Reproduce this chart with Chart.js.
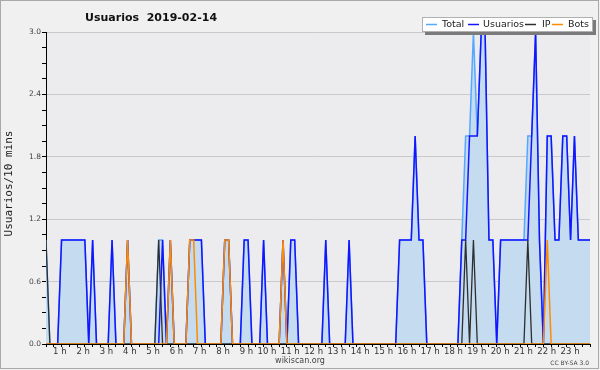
<!DOCTYPE html>
<html><head><meta charset="utf-8">
<script src="https://cdn.jsdelivr.net/npm/chart.js@4/dist/chart.umd.min.js"></script>
<style>html,body{margin:0;padding:0;background:#f0f0f0;}canvas{display:block;}</style>
</head><body>
<canvas id="c" width="600" height="370"></canvas>
<script>
// 10-minute slots, index 0..140
const hourLabels = ["1 h","2 h","3 h","4 h","5 h","6 h","7 h","8 h","9 h","10 h","11 h","12 h","13 h","14 h","15 h","16 h","17 h","18 h","19 h","20 h","21 h","22 h","23 h"];
const yTickLabels = ["0.0","0.6","1.2","1.8","2.4","3.0"];
const seriesNames = ["Total","Usuarios","IP","Bots"];

const total = [
1,0,0,0,1,1,1,1,1,1,
1,0,1,0,0,0,0,1,0,0,
0,1,0,0,0,0,0,0,0,1,
1,0,1,0,0,0,0,1,1,1,
1,0,0,0,0,0,1,1,0,0,
0,1,1,0,0,0,1,0,0,0,
0,1,0,1,1,0,0,0,0,0,
0,0,1,0,0,0,0,0,1,0,
0,0,0,0,0,0,0,0,0,0,
0,1,1,1,1,2,1,1,0,0,
0,0,0,0,0,0,0,1,2,2,
3,2,3,3,1,1,0,1,1,1,
1,1,1,1,2,2,3,1,0,2,
2,1,1,2,2,1,2,1,1,1,
1];
const usuarios = [
0,0,0,0,1,1,1,1,1,1,
1,0,1,0,0,0,0,1,0,0,
0,1,0,0,0,0,0,0,0,0,
1,0,1,0,0,0,0,1,1,1,
1,0,0,0,0,0,1,1,0,0,
0,1,1,0,0,0,1,0,0,0,
0,1,0,1,1,0,0,0,0,0,
0,0,1,0,0,0,0,0,1,0,
0,0,0,0,0,0,0,0,0,0,
0,1,1,1,1,2,1,1,0,0,
0,0,0,0,0,0,0,1,1,2,
2,2,3,3,1,1,0,1,1,1,
1,1,1,1,1,2,3,1,0,2,
2,1,1,2,2,1,2,1,1,1,
1];
const ip = [
1,0,0,0,0,0,0,0,0,0,
0,0,0,0,0,0,0,0,0,0,
0,0,0,0,0,0,0,0,0,1,
0,0,0,0,0,0,0,0,0,0,
0,0,0,0,0,0,0,0,0,0,
0,0,0,0,0,0,0,0,0,0,
0,0,0,0,0,0,0,0,0,0,
0,0,0,0,0,0,0,0,0,0,
0,0,0,0,0,0,0,0,0,0,
0,0,0,0,0,0,0,0,0,0,
0,0,0,0,0,0,0,0,1,0,
1,0,0,0,0,0,0,0,0,0,
0,0,0,0,1,0,0,0,0,0,
0,0,0,0,0,0,0,0,0,0,
0];
const bots = [
0,0,0,0,0,0,0,0,0,0,
0,0,0,0,0,0,0,0,0,0,
0,1,0,0,0,0,0,0,0,0,
0,0,1,0,0,0,0,1,1,0,
0,0,0,0,0,0,1,1,0,0,
0,0,0,0,0,0,0,0,0,0,
0,1,0,0,0,0,0,0,0,0,
0,0,0,0,0,0,0,0,0,0,
0,0,0,0,0,0,0,0,0,0,
0,0,0,0,0,0,0,0,0,0,
0,0,0,0,0,0,0,0,0,0,
0,0,0,0,0,0,0,0,0,0,
0,0,0,0,0,0,0,0,0,1,
0,0,0,0,0,0,0,0,0,0,
0];

const COLORS = {Total:'#55a8ff', Usuarios:'#1414ff', IP:'#2e2e2e', Bots:'#ff8c00'};
const SLOTS_PER_HOUR = 6;
const lastIdx = total.length - 1;
const pts = arr => arr.map((v,i)=>({x:i,y:v}));

const deco = {
  id:'deco',
  beforeDraw(chart){
    const {ctx, chartArea:a} = chart;
    ctx.save();
    ctx.fillStyle='#f0f0f0'; ctx.fillRect(0,0,600,370);
    ctx.fillStyle='#ececee'; ctx.fillRect(a.left,a.top,a.right-a.left,a.bottom-a.top);
    ctx.strokeStyle='#a9a9a9'; ctx.lineWidth=1; ctx.strokeRect(0.5,0.5,598,368);
    ctx.restore();
  },
  afterDraw(chart){
    const {ctx} = chart;
    ctx.save();
    // title
    ctx.fillStyle='#111';
    ctx.font='bold 11px "DejaVu Sans"';
    ctx.textAlign='left'; ctx.textBaseline='alphabetic';
    ctx.fillText('Usuarios  2019-02-14', 85, 21);
    // y title
    ctx.save();
    ctx.translate(9.5, 183.5); ctx.rotate(-Math.PI/2);
    ctx.font='11px "DejaVu Sans Mono"'; ctx.textAlign='center'; ctx.textBaseline='middle';
    ctx.fillStyle='#222';
    ctx.fillText('Usuarios/10 mins', 0, 0);
    ctx.restore();
    // bottom texts
    ctx.fillStyle='#444';
    ctx.font='8px "DejaVu Sans"'; ctx.textAlign='center'; ctx.textBaseline='middle';
    ctx.fillText('wikiscan.org', 300, 361);
    ctx.font='6px "DejaVu Sans"'; ctx.textAlign='right';
    ctx.fillText('CC BY-SA 3.0', 589, 363);
    // legend
    ctx.fillStyle='#7a7a7a'; ctx.fillRect(425, 20, 171, 15);
    ctx.fillStyle='#ffffff'; ctx.fillRect(422, 17, 171, 15);
    ctx.strokeStyle='#b0b0b0'; ctx.lineWidth=1; ctx.strokeRect(422.5, 17.5, 170, 14);
    const items = [[426,442],[468,483],[525,542],[552,568]];
    ctx.font='9.5px "DejaVu Sans"'; ctx.textAlign='left'; ctx.textBaseline='middle';
    seriesNames.forEach((n,k)=>{
      const [sx,tx] = items[k];
      ctx.strokeStyle=COLORS[n]; ctx.lineWidth=1.5;
      ctx.beginPath(); ctx.moveTo(sx,24.5); ctx.lineTo(sx+11,24.5); ctx.stroke();
      ctx.fillStyle='#222'; ctx.fillText(n, tx, 25);
    });
    ctx.restore();
  }
};

new Chart(document.getElementById('c'), {
  type:'line',
  data:{datasets:[
    {label:'Bots', data:pts(bots), borderColor:COLORS.Bots, borderWidth:1.5, pointRadius:0, fill:false, order:1},
    {label:'IP', data:pts(ip), borderColor:COLORS.IP, borderWidth:1.3, pointRadius:0, fill:false, order:2},
    {label:'Usuarios', data:pts(usuarios), borderColor:COLORS.Usuarios, borderWidth:1.5, pointRadius:0, fill:false, order:3},
    {label:'Total', data:pts(total), borderColor:COLORS.Total, borderWidth:1.5, pointRadius:0, fill:'origin', backgroundColor:'#c4dbf0', order:4}
  ]},
  options:{
    responsive:false, animation:false, devicePixelRatio:1,
    layout:{padding:{top:32,left:0,right:10,bottom:0}},
    plugins:{legend:{display:false}, tooltip:{enabled:false}, title:{display:false}},
    elements:{line:{tension:0, borderJoinStyle:'miter'}},
    scales:{
      x:{type:'linear', min:0, max:lastIdx,
        afterFit(s){ s.height = 26; },
        afterBuildTicks(s){ const t=[]; for(let v=0; v<=lastIdx; v+=2) t.push({value:v}); s.ticks=t; },
        grid:{display:true, drawOnChartArea:false, drawTicks:true, tickLength:3, tickColor:'#000', lineWidth:1},
        border:{display:true, color:'#000', width:1},
        ticks:{autoSkip:false, maxRotation:0, minRotation:0, align:'end', padding:0,
          font:{family:'DejaVu Sans', size:8.5}, color:'#333',
          callback(v){ if(v>0 && v%SLOTS_PER_HOUR===0){ const h=v/SLOTS_PER_HOUR; return h<=hourLabels.length ? hourLabels[h-1]+' ' : ''; } return ''; }
        }
      },
      y:{type:'linear', min:0, max:3,
        afterFit(s){ s.width = 46; },
        afterBuildTicks(s){ const t=[]; for(let k=0;k<=20;k++) t.push({value:k*0.15}); s.ticks=t; },
        grid:{display:true, drawTicks:true, tickLength:4, tickColor:'#000',
          color(c){ return (c.index%4===0) ? '#c9c9c9' : 'rgba(0,0,0,0)'; }, lineWidth:1},
        border:{display:true, color:'#000', width:1},
        ticks:{autoSkip:false, padding:1, font:{family:'DejaVu Sans', size:7.5}, color:'#444',
          callback(v, i){ return (i%4===0) ? yTickLabels[i/4] : ''; }
        }
      }
    }
  },
  plugins:[deco]
});
</script>
</body></html>
